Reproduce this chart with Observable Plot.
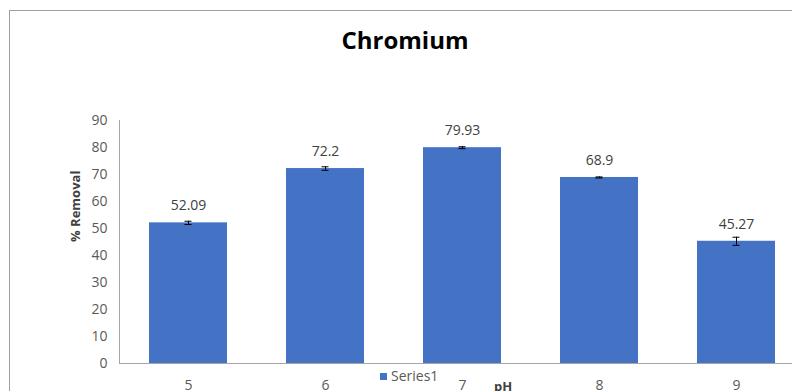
<!DOCTYPE html>
<html>
<head>
<meta charset="utf-8">
<script src="https://cdn.jsdelivr.net/npm/d3@7"></script>
<script src="https://cdn.jsdelivr.net/npm/@observablehq/plot@0.6"></script>
<style>
  html, body { margin: 0; padding: 0; background: #fff; }
  #wrap { position: relative; width: 792px; height: 391px; overflow: hidden; font-family: "Open Sans", sans-serif; }
  #wrap svg { position: absolute; left: 0; top: 0; }
  .border { position: absolute; left: 9px; top: 10px; width: 800px; height: 400px; border-left: 1px solid #a0a0a0; border-top: 1px solid #a0a0a0; }
  .title { position: absolute; left: 9px; width: 792px; top: 22px; text-align: center; font-size: 24px; font-weight: bold; color: #000; line-height: 36px; }
  .legend { position: absolute; left: 380px; top: 366px; font-size: 14px; color: #595959; line-height: 20px; display: flex; align-items: center; }
  .legend .sw { width: 7px; height: 7px; background: #4472C4; margin-right: 4px; }
  .xlabel { position: absolute; left: 494px; top: 376px; font-size: 13px; font-weight: bold; color: #404040; line-height: 20px; }
</style>
</head>
<body>
<div id="wrap">
  <div class="border"></div>
  <div class="title">Chromium</div>
</div>
<script>
const categories = ["5", "6", "7", "8", "9"];
const removal = [52.09, 72.2, 79.93, 68.9, 45.27];
const errors = [0.6, 0.65, 0.35, 0.2, 1.5];
const yTicks = [0, 10, 20, 30, 40, 50, 60, 70, 80, 90];
const seriesName = "Series1";
const titleText = "Chromium";
const yLabel = "% Removal";
const xLabel = "pH";

const data = categories.map((c, i) => ({ph: c, value: removal[i], err: errors[i]}));

const chart = Plot.plot({
  width: 792,
  height: 391,
  marginLeft: 119,
  marginRight: 0,
  marginTop: 120,
  marginBottom: 28,
  style: { fontFamily: "Open Sans, sans-serif", fontSize: "14px", color: "#595959", background: "transparent", overflow: "visible" },
  x: { domain: categories, range: [119.5, 804.5], paddingInner: 0.43, paddingOuter: 0.215, label: null },
  y: { domain: [0, 90], ticks: yTicks, label: null },
  marks: [
    Plot.barY(data, { x: "ph", y: "value", fill: "#4472C4" }),
    Plot.ruleX(data, { x: "ph", y1: d => d.value - d.err, y2: d => d.value + d.err, stroke: "#000", strokeWidth: 1 }),
    Plot.tickY(data, { x: "ph", y: d => d.value - d.err, stroke: "#000", insetLeft: 35.5, insetRight: 35.5 }),
    Plot.tickY(data, { x: "ph", y: d => d.value + d.err, stroke: "#000", insetLeft: 35.5, insetRight: 35.5 }),
    Plot.text(data, { x: "ph", y: "value", text: d => String(d.value), dy: -17, fill: "#404040", fontSize: 14 }),
    Plot.axisY({ ticks: yTicks, tickSize: 0, tickPadding: 12, fontSize: 14, fill: "#595959", label: null }),
    Plot.axisX({ tickSize: 0, tickPadding: 17, fontSize: 14, fill: "#595959", label: null }),
    Plot.ruleY([0], { stroke: "#a6a6a6", strokeWidth: 1 }),
    Plot.frame({ anchor: "left", stroke: "#a6a6a6", strokeWidth: 1 }),
    Plot.text([yLabel], { frameAnchor: "left", rotate: -90, dx: -44, fontSize: 13, fontWeight: "bold", fill: "#404040" })
  ]
});

const wrap = document.getElementById("wrap");
wrap.insertBefore(chart, wrap.firstChild);
document.querySelector(".title").textContent = titleText;

const legend = document.createElement("div");
legend.className = "legend";
legend.innerHTML = '<span class="sw"></span><span></span>';
legend.lastChild.textContent = seriesName;
wrap.appendChild(legend);

const xl = document.createElement("div");
xl.className = "xlabel";
xl.textContent = xLabel;
wrap.appendChild(xl);
</script>
</body>
</html>
